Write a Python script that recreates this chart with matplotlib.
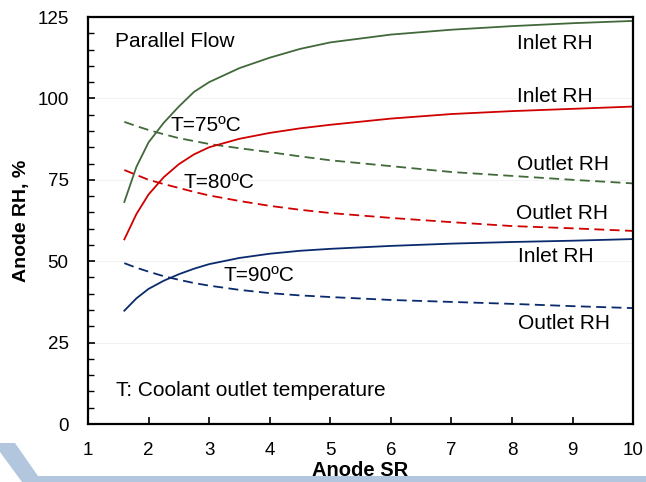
import matplotlib
matplotlib.use('Agg')
import matplotlib.pyplot as plt
from matplotlib.patches import Polygon
from matplotlib.ticker import MultipleLocator

plt.rcParams['font.family'] = ['Liberation Sans', 'DejaVu Sans']

# anode stoichiometric ratio
sr = [1.6, 1.8, 2.0, 2.25, 2.5, 2.75, 3.0, 3.5, 4.0, 4.5, 5.0, 6.0, 7.0, 8.0, 9.0, 10.0]

# inlet / outlet RH (%) for each coolant outlet temperature
inlet_75 = [68.2, 79.0, 86.5, 92.5, 97.5, 102.0, 105.0, 109.3, 112.5, 115.2, 117.2, 119.6, 121.1, 122.2, 123.1, 123.8]
outlet_75 = [92.8, 91.5, 90.3, 89.0, 87.8, 86.9, 86.0, 84.7, 83.5, 82.2, 81.0, 79.2, 77.4, 76.2, 75.0, 73.9]
inlet_80 = [56.7, 64.5, 70.5, 75.8, 79.8, 82.8, 85.0, 87.6, 89.4, 90.8, 91.9, 93.8, 95.2, 96.1, 96.8, 97.5]
outlet_80 = [78.0, 76.5, 75.0, 73.7, 72.5, 71.3, 70.2, 68.5, 67.0, 65.8, 64.8, 63.3, 62.0, 60.8, 60.1, 59.3]
inlet_90 = [34.8, 38.6, 41.5, 44.0, 46.0, 47.7, 49.1, 51.0, 52.3, 53.2, 53.8, 54.7, 55.4, 55.9, 56.3, 56.8]
outlet_90 = [49.4, 48.0, 46.8, 45.4, 44.3, 43.3, 42.5, 41.2, 40.2, 39.5, 39.0, 38.1, 37.5, 36.9, 36.2, 35.6]

green = '#41693A'
red = '#D00000'
blue = '#0A2A6E'

fig = plt.figure(figsize=(6.46, 4.82), dpi=100)
ax = fig.add_axes([0.1362, 0.1203, 0.8438, 0.8444])

dash = (5.5, 3)
ax.plot(sr, inlet_75, color=green, lw=1.3)
ax.plot(sr, outlet_75, color=green, lw=1.3, dashes=dash)
ax.plot(sr, inlet_80, color=red, lw=1.3)
ax.plot(sr, outlet_80, color=red, lw=1.3, dashes=dash)
ax.plot(sr, inlet_90, color=blue, lw=1.3)
ax.plot(sr, outlet_90, color=blue, lw=1.3, dashes=dash)

ax.set_xlim(1, 10)
ax.set_ylim(0, 125)
ax.xaxis.set_major_locator(MultipleLocator(1))
ax.yaxis.set_major_locator(MultipleLocator(25))
ax.yaxis.set_minor_locator(MultipleLocator(5))
ax.tick_params(which='both', direction='in', labelsize=13.5, color='black')
ax.tick_params(which='major', length=5, width=1.2, pad=14)
ax.tick_params(which='minor', length=4, width=1.0)
ax.tick_params(axis='x', which='major', pad=13)
for s in ax.spines.values():
    s.set_linewidth(1.6)
ax.grid(axis='y', which='major', color='#f2f2f2', lw=0.8)
ax.set_axisbelow(True)

ax.set_xlabel('Anode SR', fontsize=14.5, fontweight='bold', labelpad=1.5)
ax.set_ylabel('Anode RH, %', fontsize=14, fontweight='bold', labelpad=5)

fs = 15
ax.text(1.45, 117.5, 'Parallel Flow', fontsize=fs, va='center')
ax.text(2.37, 91.7, 'T=75ºC', fontsize=fs, va='center')
ax.text(2.57, 74.3, 'T=80ºC', fontsize=fs, va='center')
ax.text(3.23, 45.6, 'T=90ºC', fontsize=fs, va='center')
ax.text(8.08, 116.9, 'Inlet RH', fontsize=fs, va='center')
ax.text(8.08, 100.5, 'Inlet RH', fontsize=fs, va='center')
ax.text(8.08, 79.7, 'Outlet RH', fontsize=fs, va='center')
ax.text(8.07, 64.7, 'Outlet RH', fontsize=fs, va='center')
ax.text(8.1, 51.4, 'Inlet RH', fontsize=fs, va='center')
ax.text(8.1, 30.9, 'Outlet RH', fontsize=fs, va='center')
ax.text(1.46, 10.4, 'T: Coolant outlet temperature', fontsize=fs, va='center')

# light blue logo band along the bottom edge
W, H = 646.0, 482.0
pts = [(0, 443), (15, 443), (38, 476), (646, 476), (646, 482), (22, 482), (0, 452)]
fig.add_artist(Polygon([(x / W, 1 - y / H) for x, y in pts], closed=True,
                       transform=fig.transFigure, facecolor='#B2C7DD',
                       edgecolor='none', zorder=0))

fig.savefig('out.png', dpi=100)
